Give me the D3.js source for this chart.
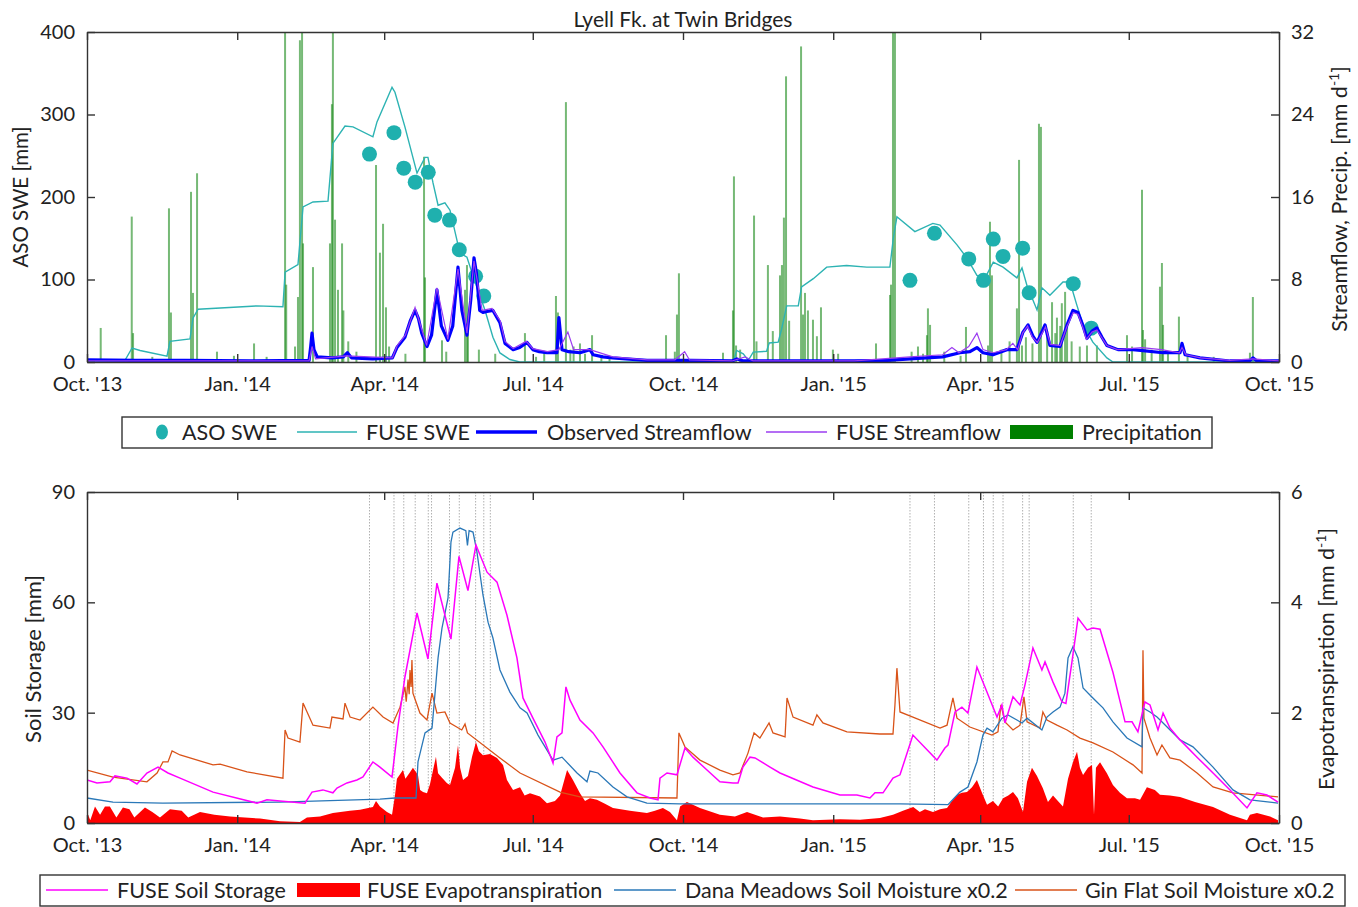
<!DOCTYPE html>
<html>
<head>
<meta charset="utf-8">
<script src="https://cdnjs.cloudflare.com/ajax/libs/d3/7.8.5/d3.min.js"></script>
<style>
body { margin: 0; background: #fff; }
text { font-family: Lato, "Open Sans", sans-serif; fill: #222; }
</style>
</head>
<body>
<div id="chart-area"></div>
<script>
/*
*    Lyell Fk. at Twin Bridges - SWE, streamflow, soil storage, ET
*    x values are days since 1 Oct 2013
*/

// ---- Top panel data ----
var asoSwe = [[173,252],[188,278],[194,235],[201,218],[209,230],[213,178],[222,172],[228,136],[238,104],[243,80],
    [504,99],[519,156],[540,125],[549,99],[555,149],[561,128],[573,138],[577,84],[604,95],[615,41]];
var flightDays = [173,188,194,201,209,211,222,228,238,243,247,
    504,519,540,549,555,561,573,577,604,615];

var fuseSwe = [[0,0],[23,1],[27.6,17],[32.5,14],[49,7],[50.8,25],[63.1,28],[64.9,53],[68,64],[104,68],[120,67],
    [121.3,109],[129.2,118],[132.3,188],[138.4,194],[147.6,195],[150.6,265],[158,286],[162.9,285],[175.1,273],
    [177.6,291],[186.8,333],[188.6,327],[194.7,285],[202.1,229],[207,248],[208.8,248],[211.9,217],[215,190],
    [219.2,193],[222.3,184],[228.4,132],[232.7,127],[235.8,108],[239.4,87],[243.7,63],[248.6,30],[252.9,11],
    [259,3],[265,0],[395.8,0],[397.8,14],[401.9,10],[405,2],[408,12],[416.2,13],[417.8,23],[423.3,24],[425.4,40],
    [428.5,68],[435.6,68],[437.6,91],[444.8,101],[453,115],[465.2,117],[477.5,115],[491.7,115],[493.8,150],
    [496,176],[507,158],[518,168],[522.4,166],[532.8,142],[538.9,126],[545,105],[550,102],[555,121],[561,115],
    [569.5,102],[572.6,114],[575.6,93],[581.8,63],[584.8,90],[589.7,81],[597.7,97],[602,97],[606.2,69],
    [610,45],[616,24],[624.6,5],[628.3,0],[730,0]];

var obsFlow = [[0,0.2],[30,0.15],[60,0.15],[100,0.12],[136,0.15],[137,1.5],[137.8,2.8],[139,1.2],[141,0.5],
    [150,0.4],[157,0.5],[159.5,0.9],[162,0.4],[175,0.3],[187,0.4],[189.8,1.4],[194.7,2.4],[198,4.0],[200.9,5.0],
    [203,4.2],[205,2.8],[208.2,1.5],[211,2.6],[214.3,7.0],[217,3.5],[221,2.1],[224,3.5],[227.2,9.2],[229.6,5.0],
    [232.7,2.6],[235,6.0],[237,10.1],[238.5,8.6],[240.5,5.0],[242.5,4.8],[245,4.9],[248.6,5.0],[252.9,3.8],
    [256,1.8],[261,1.2],[265,1.4],[269.5,1.9],[273,1.2],[277,1.0],[281.7,0.9],[287.8,0.9],[289,4.3],[290.9,1.2],
    [295,1.0],[301.9,0.9],[308,1.2],[310,0.7],[316,0.5],[322,0.4],[330,0.3],[343,0.15],[370,0.15],[395,0.1],
    [398,0.3],[402,0.1],[430,0.1],[470,0.1],[490,0.15],[504,0.3],[524,0.5],[534.6,0.9],[540.7,1.0],[545,1.4],
    [548.7,0.9],[554.8,0.7],[563.4,1.2],[569.5,1.2],[573.2,2.9],[576.3,3.6],[579.3,2.5],[581.8,1.9],[583.6,2.5],
    [586.7,3.6],[589.7,1.6],[595.9,1.5],[600.2,3.6],[603.8,5.0],[606.9,4.8],[610,3.5],[612.4,2.3],[615.5,3.0],
    [618.5,3.3],[621.6,2.4],[624.6,1.6],[631.4,1.2],[640.6,1.2],[659,0.9],[669.4,0.9],[670.6,1.8],[672.5,0.7],
    [681.6,0.4],[700,0.1],[712,0.1],[714,0.4],[716.5,0.1],[730,0.1]];

var fuseFlow = [[0,0.1],[136,0.1],[137.8,1.5],[140,0.3],[159,0.6],[187,0.4],[190,1.6],[195,2.6],[200.9,5.3],
    [208,1.6],[214.3,7.2],[221,2.2],[227.2,9.0],[232.7,2.8],[237,9.8],[242,5.0],[248,5.2],[253,4.0],[256,2.0],
    [261,1.3],[269,2.0],[273,1.3],[282,1.0],[289,1.2],[294.5,2.9],[298,1.2],[308,1.2],[322,0.5],[343,0.2],
    [360,0.2],[366,1.0],[369,0.2],[395,0.1],[403,0.5],[408,0.1],[470,0.1],[504,0.5],[524,0.7],[529.7,1.4],
    [534,0.9],[540,1.5],[545,2.8],[548.7,1.2],[555,0.9],[563,1.2],[567,1.8],[570,1.2],[573,2.8],[576,3.5],
    [579,2.4],[582,1.9],[587,3.4],[590,1.7],[596,1.6],[600,3.4],[604,4.8],[607,4.6],[610,3.3],[612,2.2],
    [615.5,2.9],[618.5,3.1],[624.6,1.6],[631,1.2],[646,1.4],[658,1.2],[669,0.9],[670.6,1.4],[673,0.7],
    [682,0.4],[700,0.15],[714,0.3],[730,0.1]];

var precip = [[8.4,3.3],[27.4,14.1],[28.2,2.8],[40,0.5],[50.2,14.9],[51.4,4.8],[63.7,16.5],[64.9,6.7],[67.4,18.3],
    [79.6,1.0],[90,0.6],[102.3,1.8],[110,0.5],[121.3,34],[122,7.5],[127.4,1.5],[129.2,6.3],[130.4,31.2],
    [131.7,34],[132.3,11.5],[138.4,9.2],[148.8,11.5],[150,25],[150.6,34],[151.9,13.8],[153.7,7.0],[156.2,11.5],
    [157,5.0],[160,2.0],[165,1.0],[177,19.1],[179.4,10.6],[181.3,13.4],[183.1,5.3],[185,1.5],[195,0.8],
    [206.4,19.9],[207,8.2],[217.4,2.1],[220,1.0],[231.5,7.0],[232.7,9.4],[233.3,3.4],[240,1.2],[250,0.8],
    [268.2,2.8],[275,0.5],[280,1.0],[287.2,6.4],[288.4,4.8],[293.3,25.2],[296,1.2],[298,1.5],[301.9,1.8],
    [305,0.8],[309.3,2.6],[315,0.5],[320,0.6],[354.6,2.6],[360,1.0],[361.3,4.6],[362.5,8.6],[389.5,0.9],
    [395.6,5.0],[396.2,18.0],[397.5,1.6],[400,1.2],[408.5,14.2],[410,2.0],[417,9.4],[420,3.0],[424.4,8.4],
    [425.6,9.4],[426.8,14.0],[428.1,27.7],[430,4.0],[437.3,30.6],[438.5,4.6],[439.7,6.7],[441.5,5.0],
    [444.6,4.1],[447,2.5],[449.5,5.3],[456.8,1.2],[460,0.8],[483.2,1.8],[491.8,6.5],[492.4,7.5],[493.6,34],
    [494.8,34],[505,1.0],[508.9,1.5],[512,0.8],[514.4,2.6],[515,5.2],[516.3,3.6],[525,1.0],[535,0.6],
    [538.3,3.4],[551.8,1.6],[553,13.6],[554.2,8.4],[560,1.2],[565,2.0],[569.5,5.2],[570.8,19.6],[572.6,1.6],
    [575,2.4],[579,1.8],[583,23.1],[584.2,22.8],[588,3.0],[591,5.8],[593,2.8],[594,4.3],[596,3.5],[597,5.7],
    [599,6.8],[600.2,3.4],[603,2.0],[608,1.5],[612.4,1.6],[618.5,1.6],[636.9,2.6],[640,1.5],[646.1,16.7],
    [646.7,3.1],[648,2.2],[652,1.2],[657.1,7.3],[658.3,9.6],[659,3.6],[662,1.0],[668.7,4.4],[674,0.8],
    [690,0.5],[712.2,0.9],[714,6.3]];

// ---- Bottom panel data ----
var soilStorage = [[0,11.7],[6.1,10.9],[14.1,11.2],[17.1,12.8],[24.5,12.2],[30.6,10.6],[36.7,13.6],[43.5,15.2],
    [49.6,13.6],[57,12.2],[77.2,8.4],[104.1,5.4],[110.2,6.3],[118.2,6.0],[133.5,5.4],[137.8,8.4],[144.5,9.0],
    [150.6,8.2],[153.1,9.5],[159.2,10.9],[165.3,11.7],[169,12.5],[175.1,16.6],[179.4,15.2],[186.8,12.5],
    [190.4,26.1],[194.7,39.7],[202.1,57.1],[208.8,44.6],[214.3,65.2],[222.9,50.0],[227.8,72.5],[233.3,63.2],
    [238.2,75.6],[245,68.2],[251.1,65.5],[257.2,56.5],[263.3,44.9],[267,34],[273.1,28.5],[280.5,22],
    [285.4,16.3],[287.8,23.4],[290.9,24.5],[293.3,37.0],[295.8,33.4],[301.9,28.0],[309.9,24.5],[316,20.7],
    [326.4,13.6],[336.8,8.2],[344.8,6.8],[349.7,6.3],[350.9,12.2],[355.2,13.6],[361.3,13.1],[366.2,20.4],
    [371.1,17.9],[379.7,14.4],[387.6,11.2],[395.6,10.9],[398.7,10.9],[401.7,15.2],[406,17.9],[409.1,17.7],
    [418.3,15.2],[424.4,13.6],[444.6,9.8],[461.1,7.6],[471.5,7.6],[479.5,6.8],[482.6,8.2],[487.5,8.2],
    [493.6,12.2],[497.9,13.1],[505.8,23.9],[520.5,17.1],[525.4,20.4],[527.3,21.2],[531.6,30.2],[535.8,31.5],
    [539.5,29.9],[545,42.4],[557.3,28.8],[560.3,32.1],[562.2,27.2],[567.1,34.3],[571.4,32.1],[574.4,37.5],
    [579.3,47.6],[584.8,41.6],[586.7,43.8],[591.6,38.3],[597.1,32.9],[599.5,32.5],[603.2,43.8],[606.9,55.7],
    [612.4,52.5],[616.1,53],[620.4,52.7],[628.3,41.0],[635.7,27.5],[640,27.5],[643.6,24.8],[647.9,32.9],
    [651,32.1],[655.9,25.3],[659,29.9],[663.2,25.8],[669.4,22.6],[679.8,17.9],[689.6,13.6],[700,9.0],
    [710.4,4.1],[716.5,8.2],[722.6,7.6],[729.4,5.7]];

var fuseEt = [[0,0.2],[2,0.05],[4.9,0.3],[8,0.15],[11,0.3],[14,0.3],[18,0.1],[22,0.28],[26,0.25],[29,0.1],
    [35.5,0.28],[40,0.2],[44.7,0.1],[50.8,0.25],[58,0.22],[62,0.1],[69.2,0.2],[78,0.15],[87.6,0.12],[106,0.08],
    [118.2,0.03],[130.4,0.02],[134.7,0.1],[142.7,0.12],[150.6,0.18],[161,0.22],[167.2,0.24],[175.1,0.29],
    [177,0.4],[179.4,0.3],[183.7,0.2],[186.8,0.15],[188.6,0.5],[189.8,0.8],[193.5,0.96],[195,0.8],[197.8,0.92],
    [199.6,1.0],[202.7,0.87],[204,0.6],[205.8,0.56],[208.2,0.54],[210,0.7],[213.7,1.2],[215,0.9],[217.4,0.82],
    [220.5,0.72],[222.3,0.69],[225.4,1.0],[227.2,1.41],[228.5,1.0],[230.3,0.78],[233.3,0.85],[235.8,1.2],
    [238.2,1.47],[240,1.3],[242.5,1.23],[246.8,1.25],[251.1,1.18],[254.8,1.05],[257.2,0.78],[260.9,0.6],
    [265.2,0.65],[268,0.5],[271.3,0.54],[277.4,0.48],[281.7,0.36],[286.6,0.4],[289.7,0.5],[294,0.96],
    [297.6,0.78],[301.9,0.54],[305,0.4],[308,0.45],[312.3,0.42],[317.2,0.35],[322.1,0.27],[332.5,0.22],
    [342.9,0.18],[347.8,0.22],[352.7,0.27],[357,0.2],[361.3,0.05],[363.2,0.3],[367.4,0.38],[375.4,0.27],
    [387.6,0.15],[396.8,0.12],[404.2,0.2],[414,0.1],[424.4,0.12],[436.6,0.08],[444.6,0.05],[461.1,0.07],
    [473.4,0.06],[485.6,0.09],[493.6,0.15],[499.7,0.22],[506,0.29],[510,0.2],[513.2,0.25],[518.1,0.2],
    [522.4,0.25],[526.7,0.27],[529.7,0.4],[532.8,0.51],[535.8,0.55],[538.9,0.56],[542,0.65],[545,0.78],
    [548.1,0.55],[551.2,0.33],[554.8,0.4],[558,0.3],[561,0.45],[564.2,0.5],[567.1,0.56],[570.1,0.45],
    [573.2,0.2],[575.7,0.75],[578.7,1.0],[581.8,0.85],[585.4,0.63],[588.5,0.38],[591.6,0.5],[594.6,0.4],
    [597.7,0.3],[600.8,0.8],[603.8,1.1],[606.3,1.29],[608.1,1.0],[610,0.87],[613,1.0],[615.5,1.05],
    [616.7,0.15],[617.9,1.0],[620.4,1.1],[624.6,0.9],[628.3,0.69],[632.6,0.55],[636.9,0.45],[641.8,0.45],
    [644.9,0.42],[649.1,0.65],[654,0.6],[657.1,0.51],[663.2,0.5],[669.4,0.47],[678.6,0.38],[689.6,0.29],
    [700,0.15],[710.4,0.05],[712.2,0.15],[716.5,0.18],[724.5,0.12],[729.4,0.05]];

var danaMoist = [[0,6.8],[15.9,5.7],[46.5,5.4],[118.2,5.7],[179.4,6.5],[188.6,6.8],[201.5,6.8],[202.7,16.6],
    [207,24.5],[211.3,25.8],[215,44.9],[217.4,53],[221.1,61.2],[222.9,76.4],[224.1,79.1],[228.4,80.2],
    [232,79.5],[233,75.5],[234,79.5],[236.4,79.1],[238.8,73.7],[242.5,62],[245.6,54.6],[248.6,50.3],
    [252.9,41.6],[259,35.6],[265.2,31.3],[269.5,29.9],[276.2,23.9],[285.4,17.1],[290.9,17.9],[300.1,13.6],
    [306.2,11.2],[308,14.1],[312.9,13.6],[322.1,9.8],[330.7,7.1],[342.9,5.4],[363.2,5.2],[424.4,5.2],
    [497.9,5.2],[527.3,5.0],[534.6,8.4],[539.5,9.8],[545,16.6],[548.7,23.9],[551.2,25.8],[554.8,24.8],
    [560.3,28.5],[564,29.4],[569.5,28],[572.6,27.2],[575.7,28.5],[584.8,25.3],[587.9,28.8],[591.6,30.2],
    [595.9,31.5],[598.9,35.3],[600.8,44.9],[603.8,47.9],[606.9,44.9],[610,36.7],[614.2,34.8],[618.5,32.9],
    [622.2,31.3],[628.3,27.5],[636.9,23.1],[646.1,20.7],[646.7,31.3],[651,30.2],[655.3,28.8],[659,27.2],
    [669.4,22.6],[677.3,20.7],[689.6,15.2],[701.8,9.0],[712.2,6.3],[729.4,5.4]];

var ginMoist = [[0,14.4],[15.9,12.5],[36.7,11.2],[42.9,13.6],[46.5,16.6],[49.6,16.6],[52.1,19.6],[57,18.5],
    [77.2,15.8],[81.5,16.0],[98,13.9],[120,12.2],[121.3,25.3],[123.1,23.1],[130.4,22.0],[132.3,32.6],
    [138.4,26.6],[148.8,25.8],[150,28.8],[156.8,28.3],[158,32.6],[161.1,28.8],[167.2,28.0],[175.1,31.5],
    [181.3,28.8],[187.4,27.2],[191.7,31.5],[194.7,37],[195.5,33],[196.6,39],[197.3,35],[197.8,41.6],
    [198.5,37],[199,44.3],[199.6,35.3],[203.9,29.9],[208.2,28],[211.3,35.3],[214.3,29.9],[219.2,30.2],
    [222.3,27.2],[229.5,25.3],[231.5,26.9],[233,24.5],[252.9,17.7],[265.2,13.6],[289.7,8.4],[301.9,7.1],
    [361.3,6.8],[362.5,24.5],[366.2,20.7],[375.4,17.1],[387.6,14.4],[395.6,13.1],[399.9,13.6],[404.8,19.0],
    [408.5,24.5],[412.1,23.1],[417.7,27.2],[420.1,24.5],[427.5,23.4],[428.7,34],[432.4,28.8],[444.6,26.6],
    [447,29.4],[450.7,27.2],[465.4,24.8],[485.6,24.2],[493.6,24.2],[494.8,32.1],[496,42.1],[497.9,30.2],
    [505.8,28.8],[522.4,25.8],[526.7,26.6],[530.3,34],[532.8,28.5],[540.7,26.1],[554.2,23.9],[557.9,24.8],
    [559.7,32.1],[562.2,27.5],[567.1,25.3],[571.4,26.6],[573.8,34.3],[575.7,27.5],[583.6,25.8],[585.4,30.2],
    [587.9,28.0],[594,26.6],[600.2,25.3],[608.1,23.1],[616.1,21.8],[628.3,19.3],[640.6,15.8],[646.1,13.6],
    [646.7,47.0],[647.3,28.5],[651,23.1],[655.3,18.5],[658.3,21.2],[663.2,17.7],[669.4,17.1],[679.8,13.6],
    [689.6,9.8],[701.8,8.2],[729.4,7.1]];

// ---- Axes ticks ----
var monthTicks = ["2013-10-01","2014-01-01","2014-04-01","2014-07-01","2014-10-01",
    "2015-01-01","2015-04-01","2015-07-01","2015-10-01"];
var sweTicks = [0,100,200,300,400];
var flowTicks = [0,8,16,24,32];
var soilTicks = [0,30,60,90];
var etTicks = [0,2,4,6];

var W = 1358, H = 907;
var left = 87, right = 1279;
var top1 = 32, bot1 = 362, top2 = 492, bot2 = 823;

var svg = d3.select("#chart-area").append("svg")
    .attr("width", W).attr("height", H);

var t0 = Date.UTC(2013, 9, 1);
var x = d3.scaleUtc()
    .domain([new Date(t0), new Date(Date.UTC(2015, 9, 1))])
    .range([left, right]);
function xd(d) { return x(new Date(t0 + d * 864e5)); }

var ySwe = d3.scaleLinear().domain([0, 400]).range([bot1, top1]);
var yFlow = d3.scaleLinear().domain([0, 32]).range([bot1, top1]);
var ySoil = d3.scaleLinear().domain([0, 90]).range([bot2, top2]);
var yEt = d3.scaleLinear().domain([0, 6]).range([bot2, top2]);

var tickDates = monthTicks.map(function(s){ return new Date(s + "T00:00:00Z"); });
var fmt = d3.utcFormat("%b. '%y");

// clip paths
var defs = svg.append("defs");
defs.append("clipPath").attr("id", "clip1").append("rect")
    .attr("x", left).attr("y", top1).attr("width", right - left).attr("height", bot1 - top1);
defs.append("clipPath").attr("id", "clip2").append("rect")
    .attr("x", left).attr("y", top2).attr("width", right - left).attr("height", bot2 - top2);

var line = d3.line()
    .x(function(d){ return xd(d[0]); });

// ===== Top panel =====
var g1 = svg.append("g").attr("clip-path", "url(#clip1)");

g1.selectAll(".precip").data(precip).enter()
    .append("rect")
    .attr("class", "precip")
    .attr("x", function(d){ return xd(d[0]) - 1; })
    .attr("width", 2)
    .attr("y", function(d){ return yFlow(d[1]); })
    .attr("height", function(d){ return yFlow(0) - yFlow(d[1]); })
    .attr("fill", "#1a8a1a")
    .attr("opacity", 0.6);

g1.append("path")
    .attr("d", line.y(function(d){ return ySwe(d[1]); })(fuseSwe))
    .attr("fill", "none").attr("stroke", "#2db3b3").attr("stroke-width", 1.4);

// ASO dots sit under the streamflow lines
g1.selectAll(".aso").data(asoSwe).enter()
    .append("circle")
    .attr("class", "aso")
    .attr("cx", function(d){ return xd(d[0]); })
    .attr("cy", function(d){ return ySwe(d[1]); })
    .attr("r", 7.5)
    .attr("fill", "#1fb0ae");

g1.append("path")
    .attr("d", line.y(function(d){ return yFlow(d[1]); })(obsFlow))
    .attr("fill", "none").attr("stroke", "#0000ff").attr("stroke-width", 3.2)
    .attr("stroke-linejoin", "round");

g1.append("path")
    .attr("d", line.y(function(d){ return yFlow(d[1]); })(fuseFlow))
    .attr("fill", "none").attr("stroke", "#9b3cf0").attr("stroke-width", 1.2);

// ===== Bottom panel =====
var g2 = svg.append("g").attr("clip-path", "url(#clip2)");

g2.selectAll(".flight").data(flightDays).enter()
    .append("line")
    .attr("class", "flight")
    .attr("x1", function(d){ return xd(d); }).attr("x2", function(d){ return xd(d); })
    .attr("y1", top2).attr("y2", bot2)
    .attr("stroke", "#b0b0b0").attr("stroke-width", 1).attr("stroke-dasharray", "1.5,1.5");

var etArea = d3.area()
    .x(function(d){ return xd(d[0]); })
    .y0(yEt(0))
    .y1(function(d){ return yEt(d[1]); });
g2.append("path").attr("d", etArea(fuseEt)).attr("fill", "#ff0000");

g2.append("path")
    .attr("d", line.y(function(d){ return ySoil(d[1]); })(ginMoist))
    .attr("fill", "none").attr("stroke", "#d95319").attr("stroke-width", 1.3);

g2.append("path")
    .attr("d", line.y(function(d){ return ySoil(d[1]); })(danaMoist))
    .attr("fill", "none").attr("stroke", "#2a78b8").attr("stroke-width", 1.3);

g2.append("path")
    .attr("d", line.y(function(d){ return ySoil(d[1]); })(soilStorage))
    .attr("fill", "none").attr("stroke", "#ff00ff").attr("stroke-width", 1.5);

// ===== Axes =====
var intFmt = d3.format("d");
function drawAxes(yTop, yBot, yl, yr, lTicks, rTicks) {
    var ax = svg.append("g").attr("class", "axes");
    ax.append("g").attr("transform", "translate(0," + yBot + ")")
        .call(d3.axisBottom(x).tickValues(tickDates).tickFormat(fmt).tickSize(-8).tickSizeOuter(0).tickPadding(15));
    ax.append("g").attr("transform", "translate(0," + yTop + ")")
        .call(d3.axisTop(x).tickValues(tickDates).tickFormat("").tickSize(-8).tickSizeOuter(0));
    ax.append("g").attr("transform", "translate(" + left + ",0)")
        .call(d3.axisLeft(yl).tickValues(lTicks).tickFormat(intFmt).tickSize(-8).tickSizeOuter(0).tickPadding(12));
    ax.append("g").attr("transform", "translate(" + right + ",0)")
        .call(d3.axisRight(yr).tickValues(rTicks).tickFormat(intFmt).tickSize(-8).tickSizeOuter(0).tickPadding(12));
    ax.selectAll("text").style("font-size", "20px").style("font-family", "Lato, 'Open Sans', sans-serif").attr("fill", "#222");
    ax.selectAll("path, line").attr("stroke", "#333").attr("stroke-width", 1.4);
}
drawAxes(top1, bot1, ySwe, yFlow, sweTicks, flowTicks);
drawAxes(top2, bot2, ySoil, yEt, soilTicks, etTicks);

// Title and axis labels
svg.append("text").attr("x", (left + right) / 2).attr("y", 27)
    .attr("text-anchor", "middle").style("font-size", "21px")
    .text("Lyell Fk. at Twin Bridges");

function yLabel(xPos, yPos, size, main, sup, tail) {
    var t = svg.append("text")
        .attr("transform", "translate(" + xPos + "," + yPos + ") rotate(-90)")
        .attr("text-anchor", "middle")
        .style("font-size", size + "px");
    t.append("tspan").text(main);
    if (sup) {
        t.append("tspan").attr("dy", -8).style("font-size", "14px").text(sup);
        t.append("tspan").attr("dy", 8).text(tail);
    }
}
yLabel(28, 197, 20.5, "ASO SWE [mm]");
yLabel(1347, 199, 21.5, "Streamflow, Precip. [mm d", "-1", "]");
yLabel(41, 659, 22, "Soil Storage [mm]");
yLabel(1334, 659, 21.5, "Evapotranspiration [mm d", "-1", "]");

// ===== Legends =====
function legendBox(x0, y0, x1, y1) {
    svg.append("rect").attr("x", x0).attr("y", y0).attr("width", x1 - x0).attr("height", y1 - y0)
        .attr("fill", "#fff").attr("stroke", "#333").attr("stroke-width", 1.4);
}
function legText(xp, yc, s) {
    svg.append("text").attr("x", xp).attr("y", yc + 7.5).style("font-size", "21.5px").text(s);
}
function legLine(x0, x1, yc, color, w) {
    svg.append("line").attr("x1", x0).attr("x2", x1).attr("y1", yc).attr("y2", yc)
        .attr("stroke", color).attr("stroke-width", w);
}
function legRect(x0, x1, yc, color) {
    svg.append("rect").attr("x", x0).attr("y", yc - 7).attr("width", x1 - x0).attr("height", 14).attr("fill", color);
}

var ly1 = 432;
legendBox(122, 417, 1212, 448);
svg.append("ellipse").attr("cx", 162).attr("cy", ly1).attr("rx", 6).attr("ry", 7.5).attr("fill", "#1fb0ae");
legText(182, ly1, "ASO SWE");
legLine(297, 357, ly1, "#2db3b3", 1.4);
legText(366, ly1, "FUSE SWE");
legLine(476, 537, ly1, "#0000ff", 3.5);
legText(547, ly1, "Observed Streamflow");
legLine(766, 827, ly1, "#9b3cf0", 1.4);
legText(836, ly1, "FUSE Streamflow");
legRect(1010, 1073, ly1, "#008000");
legText(1082, ly1, "Precipitation");

var ly2 = 890;
legendBox(40, 875, 1345, 906);
legLine(46, 108, ly2, "#ff00ff", 1.5);
legText(117, ly2, "FUSE Soil Storage");
legRect(297, 360, ly2, "#ff0000");
legText(367, ly2, "FUSE Evapotranspiration");
legLine(614, 676, ly2, "#2a78b8", 1.5);
legText(685, ly2, "Dana Meadows Soil Moisture x0.2");
legLine(1015, 1077, ly2, "#d95319", 1.5);
legText(1085, ly2, "Gin Flat Soil Moisture x0.2");
</script>
</body>
</html>
